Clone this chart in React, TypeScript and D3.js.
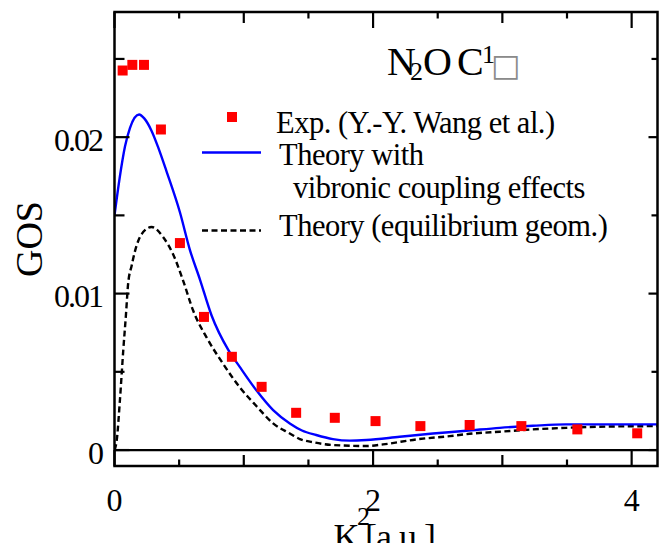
import React from "react";
import * as d3 from "d3";

// Experimental GOS (red squares)
const expX = [0.063, 0.138, 0.228, 0.359, 0.506, 0.692, 0.908, 1.138, 1.405, 1.704, 2.019, 2.366, 2.747, 3.147, 3.58, 4.043];
const expY = [0.02426, 0.02462, 0.02462, 0.02049, 0.01323, 0.00851, 0.00596, 0.00404, 0.00238, 0.00206, 0.00185, 0.00153, 0.0016, 0.00153, 0.00132, 0.00107];

// Theory with vibronic coupling effects (blue line)
const vibX = [0, 0.04, 0.081, 0.12, 0.19, 0.23, 0.287, 0.34, 0.403, 0.506, 0.583, 0.661, 0.751, 0.88, 0.97, 1.099, 1.227, 1.356, 1.45, 1.56, 1.689, 1.82, 1.95, 2.206, 2.463, 2.72, 2.98, 3.236, 3.49, 4.01, 4.2];
const vibY = [0.015, 0.0174, 0.0194, 0.0206, 0.02145, 0.0212, 0.0204, 0.0193, 0.0178, 0.0152, 0.0128, 0.0109, 0.0086, 0.0064, 0.0053, 0.0038, 0.00255, 0.0017, 0.00125, 0.00096, 0.0007, 0.0006, 0.00064, 0.00085, 0.00106, 0.00123, 0.00142, 0.00155, 0.00164, 0.00164, 0.00164];

// Theory (equilibrium geometry) (black dashed)
const eqX = [0, 0.017, 0.042, 0.068, 0.089, 0.105, 0.133, 0.158, 0.21, 0.287, 0.377, 0.454, 0.532, 0.609, 0.712, 0.841, 0.97, 1.099, 1.227, 1.356, 1.434, 1.536, 1.69, 1.949, 2.077, 2.335, 2.593, 2.773, 2.98, 3.236, 3.495, 3.752, 4.2];
const eqY = [0, 0.0006, 0.0032, 0.0064, 0.0087, 0.0106, 0.0118, 0.0127, 0.0138, 0.01426, 0.0136, 0.0125, 0.0108, 0.0089, 0.0072, 0.0055, 0.004, 0.0028, 0.0017, 0.00106, 0.0007, 0.0005, 0.00032, 0.00026, 0.00036, 0.00068, 0.00089, 0.00106, 0.00117, 0.00132, 0.00142, 0.00149, 0.00153];

const xTickVals = [0, 0.5, 1, 1.5, 2, 2.5, 3, 3.5, 4];
const xTickLabels = ["0", "2", "4"];
const xLabelVals = [0, 2, 4];
const yTickVals = [0, 0.005, 0.01, 0.015, 0.02, 0.025];
const yTickLabels = ["0", "0.01", "0.02"];
const yLabelVals = [0, 0.01, 0.02];

const legendLabels = ["Exp. (Y.-Y. Wang et al.)", "Theory with", "vibronic coupling effects", "Theory (equilibrium geom.)"];

const W = 661, H = 543;
const L = 114.5, R = 657.5, T = 12, B = 466;
const serif = "'Liberation Serif', 'Times New Roman', serif";

export default function App() {
  const x = d3.scaleLinear().domain([0, 4.2]).range([L, R]);
  const y = d3.scaleLinear().domain([-0.00102, 0.028]).range([B, T]);

  const line = d3.line<[number, number]>()
    .x(d => x(d[0]))
    .y(d => y(d[1]))
    .curve(d3.curveMonotoneX);

  const vibPath = line(vibX.map((v, i) => [v, vibY[i]] as [number, number])) || "";
  const eqPath = line(eqX.map((v, i) => [v, eqY[i]] as [number, number])) || "";

  const xTickLen = (v: number) => (Math.abs(v % 2) < 1e-9 ? 16 : Math.abs(v % 1) < 1e-9 ? 11 : 6.5);
  const yTickLen = (v: number) => (Math.abs((v * 1000) % 10) < 1e-6 ? 15 : 10);

  const sq = 10;
  const lfs = 30.5;
  const lls = -0.5;

  return (
    <svg width={W} height={H} style={{ position: "absolute", left: 0, top: 0, background: "#fff" }} fontFamily={serif}>
      <rect x={0} y={0} width={W} height={H} fill="#fff" />
      <defs>
        <clipPath id="plotclip">
          <rect x={L} y={T} width={R - L} height={B - T} />
        </clipPath>
      </defs>

      {/* zero line */}
      <line x1={L} x2={R} y1={y(0)} y2={y(0)} stroke="#000" strokeWidth={2.2} />

      {/* curves */}
      <g clipPath="url(#plotclip)">
        <path d={eqPath} fill="none" stroke="#000" strokeWidth={2.4} strokeDasharray="6,3.5" />
        <path d={vibPath} fill="none" stroke="#0000ff" strokeWidth={2.4} />
      </g>

      {/* experimental points */}
      {expX.map((v, i) => (
        <rect key={i} x={x(v) - sq / 2} y={y(expY[i]) - sq / 2} width={sq} height={sq} fill="#ff0000" />
      ))}

      {/* frame */}
      <rect x={L} y={T} width={R - L} height={B - T} fill="none" stroke="#000" strokeWidth={2.5} />

      {/* x ticks */}
      {xTickVals.map((v, i) => (
        <g key={"xt" + i}>
          <line x1={x(v)} x2={x(v)} y1={B} y2={B - xTickLen(v)} stroke="#000" strokeWidth={2.2} />
          <line x1={x(v)} x2={x(v)} y1={T} y2={T + xTickLen(v)} stroke="#000" strokeWidth={2.2} />
        </g>
      ))}
      {/* y ticks */}
      {yTickVals.map((v, i) => (
        <g key={"yt" + i}>
          <line x1={L} x2={L + yTickLen(v)} y1={y(v)} y2={y(v)} stroke="#000" strokeWidth={2.2} />
          <line x1={R} x2={R - yTickLen(v) * 0.6} y1={y(v)} y2={y(v)} stroke="#000" strokeWidth={2.2} />
        </g>
      ))}

      {/* x tick labels */}
      {xLabelVals.map((v, i) => (
        <text key={"xl" + i} x={x(v)} y={511} fontSize={32} textAnchor="middle" fill="#000">
          {xTickLabels[i]}
        </text>
      ))}
      {/* y tick labels */}
      {yLabelVals.map((v, i) => (
        <text key={"yl" + i} x={102} y={y(v) + 13.5} fontSize={32} textAnchor="end" letterSpacing={-2} fill="#000">
          {yTickLabels[i]}
        </text>
      ))}

      {/* axis titles */}
      <text transform="translate(42,239) rotate(-90)" fontSize={38} textAnchor="middle" fill="#000">GOS</text>
      <text x={333.6} y={549} fontSize={36} fill="#000">K</text>
      <text x={357} y={525} fontSize={26} fill="#000">2</text>
      <text x={365} y={549} fontSize={36} letterSpacing={-1} fill="#000">[a.u.]</text>

      {/* title */}
      <text x={387} y={75} fontSize={40} fill="#000">N</text>
      <text x={410} y={80} fontSize={26} fill="#000">2</text>
      <text x={423} y={75} fontSize={40} fill="#000">O</text>
      <text x={457} y={75} fontSize={40} fill="#000">C</text>
      <text x={482} y={63} fontSize={26} fill="#000">1</text>
      <text x={491} y={76} fontSize={31} fontFamily="'DejaVu Sans', sans-serif" fill="#8a8a8a">□</text>

      {/* legend */}
      <rect x={232 - sq / 2} y={117 - sq / 2} width={sq} height={sq} fill="#ff0000" />
      <text x={276} y={133} fontSize={lfs} letterSpacing={lls} fill="#000">{legendLabels[0]}</text>
      <line x1={202} x2={261} y1={152.5} y2={152.5} stroke="#0000ff" strokeWidth={2.4} />
      <text x={279} y={165} fontSize={lfs} letterSpacing={lls} fill="#000">{legendLabels[1]}</text>
      <text x={293} y={198} fontSize={lfs} letterSpacing={lls} fill="#000">{legendLabels[2]}</text>
      <line x1={202} x2={261} y1={230.5} y2={230.5} stroke="#000" strokeWidth={2.4} strokeDasharray="6,3.5" />
      <text x={279} y={235.5} fontSize={lfs} letterSpacing={lls} fill="#000">{legendLabels[3]}</text>
    </svg>
  );
}
